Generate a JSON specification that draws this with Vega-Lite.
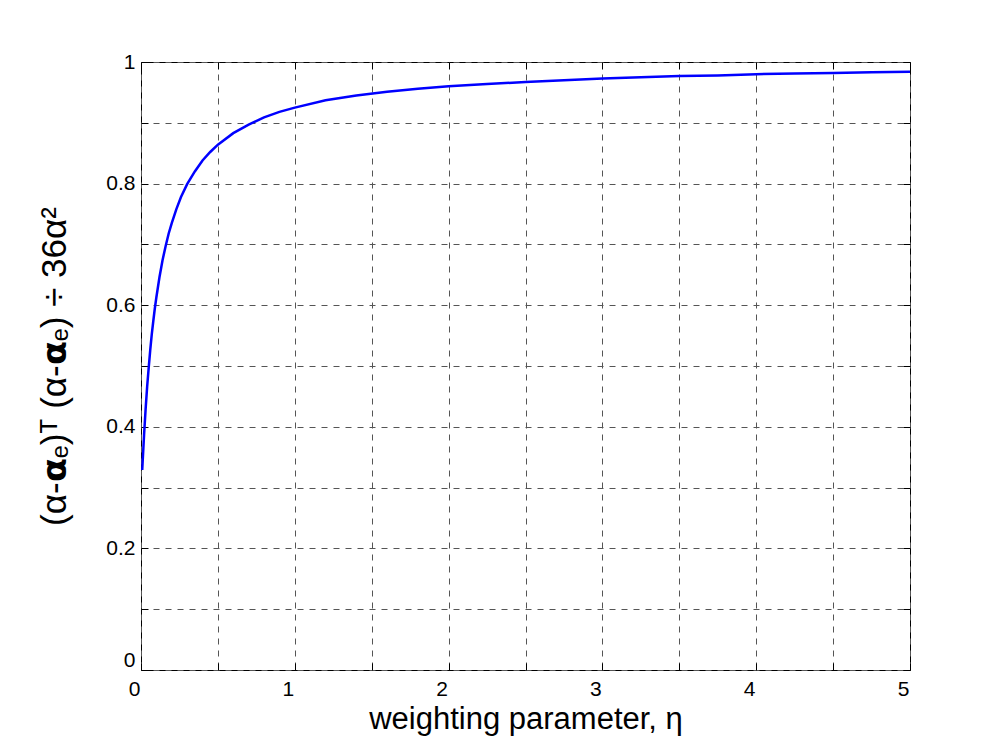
{
  "$schema": "https://vega.github.io/schema/vega-lite/v6.json",
  "width": 769,
  "height": 608,
  "autosize": {"type": "none"},
  "padding": {"left": 141, "top": 62, "right": 93, "bottom": 83},
  "background": "white",
  "config": {
    "view": {"stroke": "black", "strokeWidth": 1},
    "axis": {
      "labelFont": "Liberation Sans",
      "labelFontSize": 21,
      "labelColor": "black",
      "titleFont": "Liberation Sans",
      "titleFontSize": 31,
      "titleFontWeight": "normal",
      "titleColor": "black",
      "domain": false,
      "tickColor": "black",
      "tickSize": -7,
      "tickWidth": 1,
      "gridColor": "#555555",
      "gridDash": [6, 6],
      "gridWidth": 1,
      "gridOpacity": 1,
      "labelFlush": false,
      "labelOverlap": false
    }
  },
  "data": {
    "values": [
      {"eta": 0.008, "v": 0.329},
      {"eta": 0.02, "v": 0.387},
      {"eta": 0.03, "v": 0.429},
      {"eta": 0.04, "v": 0.466},
      {"eta": 0.05, "v": 0.497},
      {"eta": 0.06, "v": 0.526},
      {"eta": 0.07, "v": 0.552},
      {"eta": 0.08, "v": 0.574},
      {"eta": 0.09, "v": 0.595},
      {"eta": 0.1, "v": 0.613},
      {"eta": 0.12, "v": 0.646},
      {"eta": 0.14, "v": 0.674},
      {"eta": 0.16, "v": 0.697},
      {"eta": 0.18, "v": 0.718},
      {"eta": 0.2, "v": 0.735},
      {"eta": 0.23, "v": 0.758},
      {"eta": 0.26, "v": 0.778},
      {"eta": 0.3, "v": 0.799},
      {"eta": 0.35, "v": 0.82},
      {"eta": 0.4, "v": 0.838},
      {"eta": 0.45, "v": 0.852},
      {"eta": 0.5, "v": 0.864},
      {"eta": 0.6, "v": 0.883},
      {"eta": 0.7, "v": 0.897},
      {"eta": 0.8, "v": 0.909},
      {"eta": 0.9, "v": 0.918},
      {"eta": 1.0, "v": 0.925},
      {"eta": 1.2, "v": 0.937},
      {"eta": 1.4, "v": 0.945},
      {"eta": 1.6, "v": 0.951},
      {"eta": 1.8, "v": 0.956},
      {"eta": 2.0, "v": 0.96},
      {"eta": 2.25, "v": 0.964},
      {"eta": 2.5, "v": 0.967},
      {"eta": 2.75, "v": 0.97},
      {"eta": 3.0, "v": 0.973},
      {"eta": 3.25, "v": 0.975},
      {"eta": 3.5, "v": 0.977},
      {"eta": 3.75, "v": 0.978},
      {"eta": 4.0, "v": 0.98},
      {"eta": 4.25, "v": 0.981},
      {"eta": 4.5, "v": 0.982},
      {"eta": 4.75, "v": 0.983},
      {"eta": 5.0, "v": 0.984}
    ]
  },
  "layer": [
    {
      "mark": {"type": "line", "color": "#0000ff", "strokeWidth": 2.5, "clip": true},
      "encoding": {
        "x": {
          "field": "eta", "type": "quantitative",
          "scale": {"domain": [0, 5], "nice": false, "zero": false},
          "axis": {
            "orient": "bottom",
            "values": [0, 0.5, 1, 1.5, 2, 2.5, 3, 3.5, 4, 4.5, 5],
            "format": "~g",
            "labelExpr": "datum.value % 1 === 0 ? datum.label : ''",
            "labelPadding": 15,
            "labelOffset": -7,
            "grid": true,
            "title": "weighting parameter, η",
            "titlePadding": 5
          }
        },
        "y": {
          "field": "v", "type": "quantitative",
          "scale": {"domain": [0, 1], "nice": false, "zero": true},
          "axis": {
            "orient": "left",
            "values": [0, 0.1, 0.2, 0.3, 0.4, 0.5, 0.6, 0.7, 0.8, 0.9, 1],
            "format": "~g",
            "labelExpr": "indexof(['0','0.2','0.4','0.6','0.8','1'], datum.label) >= 0 ? datum.label : ''",
            "labelPadding": 13,
            "labelOffset": {"condition": {"test": "datum.value === 0", "value": -10}, "value": 0},
            "grid": true,
            "title": "(α-𝝰ₑ)ᵀ (α-𝝰ₑ)   ÷  36α²",
            "titleFontSize": 35,
            "titlePadding": 33
          }
        }
      }
    },
    {
      "mark": {"type": "line", "opacity": 0},
      "encoding": {
        "x": {
          "field": "eta", "type": "quantitative",
          "axis": {
            "orient": "top",
            "values": [0, 0.5, 1, 1.5, 2, 2.5, 3, 3.5, 4, 4.5, 5],
            "labels": false,
            "grid": false,
            "title": null
          }
        },
        "y": {
          "field": "v", "type": "quantitative",
          "axis": {
            "orient": "right",
            "values": [0, 0.1, 0.2, 0.3, 0.4, 0.5, 0.6, 0.7, 0.8, 0.9, 1],
            "labels": false,
            "grid": false,
            "title": null
          }
        }
      }
    }
  ],
  "resolve": {"axis": {"x": "independent", "y": "independent"}}
}
